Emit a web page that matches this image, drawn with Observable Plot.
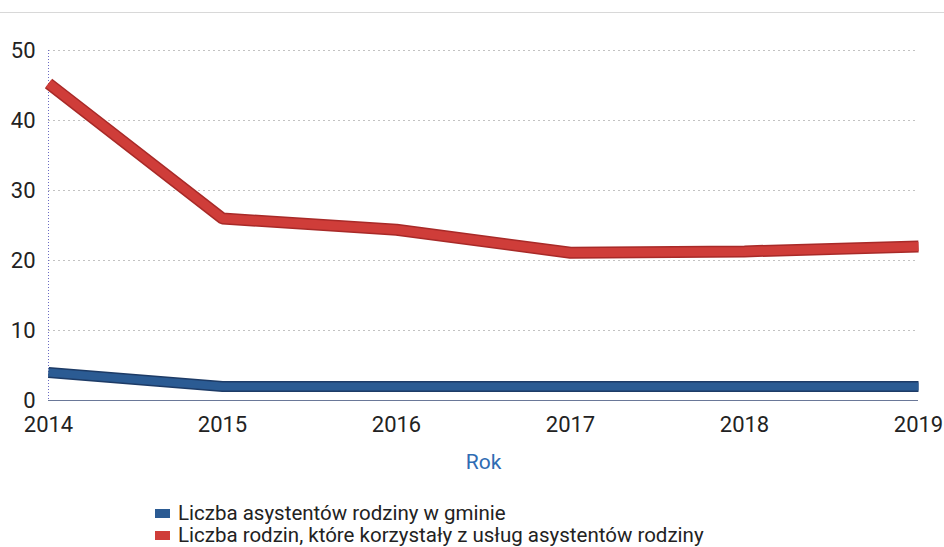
<!DOCTYPE html>
<html>
<head>
<meta charset="utf-8">
<script src="https://cdn.jsdelivr.net/npm/d3@7"></script>
<script src="https://cdn.jsdelivr.net/npm/@observablehq/plot@0.6"></script>
<style>
  html, body { margin: 0; padding: 0; background: #fff; }
  body { width: 944px; height: 547px; position: relative; overflow: hidden; font-family: Roboto, "Liberation Sans", sans-serif; }
  #topline { position: absolute; left: 0; top: 12px; width: 944px; height: 1px; background: #d8d8d8; }
  #chart { position: absolute; left: 0; top: 0; }
  #legend { position: absolute; left: 155px; top: 502px; font-size: 20.5px; color: #222; line-height: 22px; }
  .item { display: flex; align-items: center; height: 22px; }
  .sw { width: 15px; height: 9px; margin-right: 8px; }
</style>
</head>
<body>
<div id="topline"></div>
<div id="chart"></div>
<div id="legend"></div>
<script>
const years = [2014, 2015, 2016, 2017, 2018, 2019];
const asystenci = [4, 2, 2, 2, 2, 2];
const rodziny = [45.3, 26, 24.4, 21.1, 21.3, 22];
const seriesNames = ["Liczba asystentów rodziny w gminie", "Liczba rodzin, które korzystały z usług asystentów rodziny"];
const seriesColors = ["#2b5b93", "#cf3d39"];
const seriesEdge = ["#1d3b66", "#a82a28"];
const yTicks = [0, 10, 20, 30, 40, 50];
const axisTitle = "Rok";

const rows = [];
years.forEach((y, i) => {
  rows.push({year: y, value: asystenci[i], series: seriesNames[0]});
  rows.push({year: y, value: rodziny[i], series: seriesNames[1]});
});
const blue = rows.filter(d => d.series === seriesNames[0]);
const red = rows.filter(d => d.series === seriesNames[1]);

const chart = Plot.plot({
  width: 944,
  height: 490,
  marginLeft: 48,
  marginRight: 26,
  marginTop: 50,
  marginBottom: 90,
  style: {fontFamily: "Roboto, 'Liberation Sans', sans-serif", fontSize: "22px", color: "#222", background: "transparent"},
  x: {domain: [2014, 2019], ticks: years, tickFormat: d3.format("d")},
  y: {domain: [0, 50], ticks: yTicks},
  marks: [
    Plot.gridY(yTicks.filter(t => t > 0), {stroke: "#999", strokeOpacity: 0.6, strokeDasharray: "2,3"}),
    Plot.ruleX([2014], {stroke: "#6c6cc4", strokeDasharray: "1,2", strokeWidth: 1}),
    Plot.ruleY([0], {stroke: "#6a7898", strokeWidth: 1.2}),
    Plot.axisY({ticks: yTicks, tickSize: 0, tickPadding: 13, label: null, fontSize: 22}),
    Plot.axisX({ticks: years, tickSize: 0, tickPadding: 16, label: null, fontSize: 22, tickFormat: d3.format("d")}),
    Plot.text([axisTitle], {frameAnchor: "bottom", dy: 68, fill: "#2f6cb3", fontSize: 21}),
    Plot.line(blue, {x: "year", y: "value", stroke: seriesEdge[0], strokeWidth: 11, strokeLinecap: "butt", strokeLinejoin: "miter"}),
    Plot.line(blue, {x: "year", y: "value", stroke: seriesColors[0], strokeWidth: 8, strokeLinecap: "butt", strokeLinejoin: "miter"}),
    Plot.line(red, {x: "year", y: "value", stroke: seriesEdge[1], strokeWidth: 12, strokeLinecap: "butt", strokeLinejoin: "miter"}),
    Plot.line(red, {x: "year", y: "value", stroke: seriesColors[1], strokeWidth: 9, strokeLinecap: "butt", strokeLinejoin: "miter"})
  ]
});
document.getElementById("chart").appendChild(chart);

const legend = document.getElementById("legend");
seriesNames.forEach((n, i) => {
  const it = document.createElement("div");
  it.className = "item";
  const sw = document.createElement("span");
  sw.className = "sw";
  sw.style.background = seriesColors[i];
  const t = document.createElement("span");
  t.textContent = n;
  it.appendChild(sw);
  it.appendChild(t);
  legend.appendChild(it);
});
</script>
</body>
</html>
